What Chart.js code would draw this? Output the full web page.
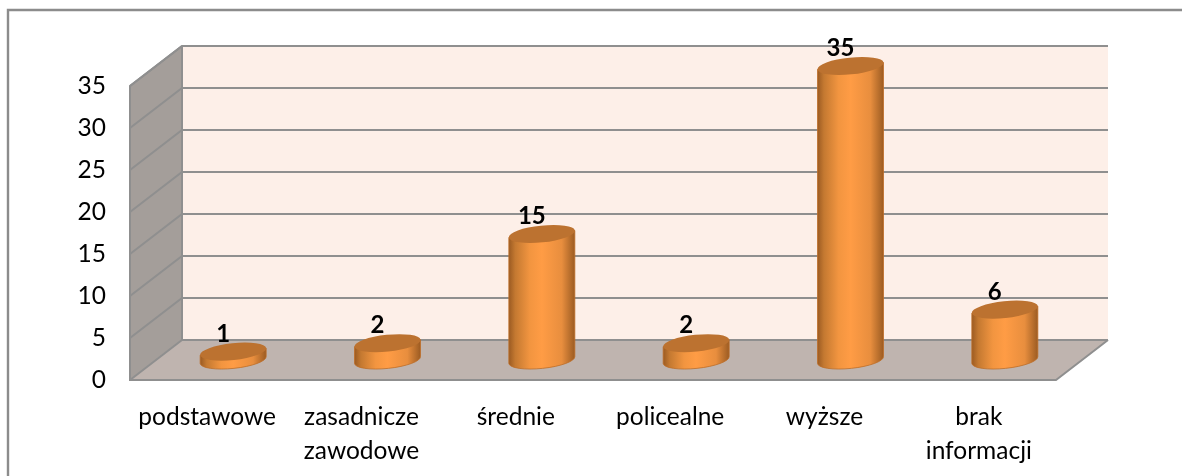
<!DOCTYPE html>
<html lang="pl">
<head>
    <meta charset="UTF-8">
    <title>Wykształcenie</title>
    <script src="https://cdn.jsdelivr.net/npm/chart.js"></script>
    <style>
        html, body { margin: 0; padding: 0; background: #fff; }
        canvas { display: block; }
    </style>
</head>
<body>
    <canvas id="wykres" width="1182" height="476"></canvas>
    <script>
        const categories = ['podstawowe', ['zasadnicze', 'zawodowe'], 'średnie', 'policealne', 'wyższe', ['brak', 'informacji']];
        const values = [1, 2, 15, 2, 35, 6];
        const yTicks = [0, 5, 10, 15, 20, 25, 30, 35];

        // przesuniecie tylnej sciany wzgledem przedniej plaszczyzny
        const depthX = 52;
        const depthY = -40;
        const fontName = 'Lato, "Open Sans", sans-serif';

        // walec zamiast prostokata
        Chart.BarElement.prototype.draw = function (ctx) {
            const props = this.getProps(['x', 'y', 'base', 'width'], true);
            const cx = props.x + depthX / 2;
            const top = props.y + depthY / 2;
            const bottom = props.base + depthY / 2;
            const rx = props.width / 2;
            const ry = 8.4;
            const rot = -6 * Math.PI / 180;
            const dx = rx * Math.cos(rot);
            const dy = rx * Math.sin(rot);

            const grad = ctx.createLinearGradient(cx - rx, 0, cx + rx, 0);
            grad.addColorStop(0, '#9a5a22');
            grad.addColorStop(0.1, '#c47931');
            grad.addColorStop(0.32, '#f29540');
            grad.addColorStop(0.5, '#ff9c45');
            grad.addColorStop(0.8, '#e88e3e');
            grad.addColorStop(1, '#9b5b22');

            ctx.save();
            ctx.beginPath();
            ctx.moveTo(cx - dx, top - dy);
            ctx.lineTo(cx - dx, bottom - dy);
            ctx.ellipse(cx, bottom, rx, ry, rot, Math.PI, 0, true);
            ctx.lineTo(cx + dx, top + dy);
            ctx.closePath();
            ctx.fillStyle = grad;
            ctx.fill();
            ctx.strokeStyle = 'rgba(190, 110, 40, 0.8)';
            ctx.lineWidth = 1;
            ctx.stroke();

            ctx.beginPath();
            ctx.ellipse(cx, top, rx, ry, rot, 0, Math.PI * 2);
            ctx.fillStyle = '#bc7230';
            ctx.fill();
            ctx.restore();
        };

        const walls = {
            id: 'walls',
            beforeDatasetsDraw(chart) {
                const ctx = chart.ctx;
                const a = chart.chartArea;
                const y = chart.scales.y;
                ctx.save();

                // lewa sciana
                ctx.fillStyle = '#a49e9a';
                ctx.beginPath();
                ctx.moveTo(a.left, a.top);
                ctx.lineTo(a.left + depthX, a.top + depthY);
                ctx.lineTo(a.left + depthX, a.bottom + depthY);
                ctx.lineTo(a.left, a.bottom);
                ctx.closePath();
                ctx.fill();

                // tylna sciana
                ctx.fillStyle = '#fdefe8';
                ctx.fillRect(a.left + depthX, a.top + depthY, a.right - a.left, a.bottom - a.top);

                // podloga
                ctx.fillStyle = '#bfb4af';
                ctx.beginPath();
                ctx.moveTo(a.left, a.bottom);
                ctx.lineTo(a.left + depthX, a.bottom + depthY);
                ctx.lineTo(a.right + depthX, a.bottom + depthY);
                ctx.lineTo(a.right, a.bottom);
                ctx.closePath();
                ctx.fill();

                // linie siatki
                ctx.strokeStyle = '#8f8f8f';
                ctx.lineWidth = 2;
                yTicks.forEach(t => {
                    const py = y.getPixelForValue(t);
                    ctx.beginPath();
                    ctx.moveTo(a.left, py);
                    ctx.lineTo(a.left + depthX, py + depthY);
                    ctx.lineTo(a.right + depthX, py + depthY);
                    ctx.stroke();
                });
                ctx.beginPath();
                ctx.moveTo(a.left + depthX, a.top + depthY);
                ctx.lineTo(a.left + depthX, a.bottom + depthY);
                ctx.moveTo(a.left + depthX, a.top + depthY);
                ctx.lineTo(a.left, a.top);
                ctx.lineTo(a.left, a.bottom);
                ctx.lineTo(a.right, a.bottom);
                ctx.lineTo(a.right + depthX, a.bottom + depthY);
                ctx.stroke();
                ctx.restore();
            },
            afterDatasetsDraw(chart) {
                const ctx = chart.ctx;
                ctx.save();
                ctx.fillStyle = '#000';
                ctx.font = 'bold 24px ' + fontName;
                ctx.textAlign = 'center';
                ctx.textBaseline = 'alphabetic';
                chart.getDatasetMeta(0).data.forEach((bar, i) => {
                    ctx.fillText(values[i], bar.x + depthX / 2 - 10, bar.y + depthY / 2 - 10);
                });
                ctx.restore();
            }
        };

        // ramka: widoczna tylko gora i lewa strona
        const frame = {
            id: 'frame',
            beforeDraw(chart) {
                const ctx = chart.ctx;
                ctx.save();
                ctx.strokeStyle = '#8c8c8c';
                ctx.lineWidth = 2.4;
                ctx.beginPath();
                ctx.moveTo(8, 476);
                ctx.lineTo(8, 10);
                ctx.lineTo(1182, 10);
                ctx.stroke();
                ctx.restore();
            }
        };

        new Chart(document.getElementById('wykres'), {
            type: 'bar',
            data: {
                labels: categories,
                datasets: [{
                    data: values,
                    backgroundColor: '#ff9c45',
                    barPercentage: 0.43,
                    categoryPercentage: 1,
                    clip: false
                }]
            },
            options: {
                responsive: false,
                animation: false,
                layout: { padding: { left: 0, top: 86, right: 126, bottom: 0 } },
                plugins: { legend: { display: false }, tooltip: { enabled: false } },
                scales: {
                    x: {
                        grid: { display: false },
                        border: { display: false },
                        afterFit(scale) { scale.height = 96; },
                        ticks: {
                            autoSkip: false,
                            maxRotation: 0,
                            minRotation: 0,
                            padding: 12,
                            color: '#000',
                            font: { family: fontName, size: 24.5, lineHeight: 1.4 }
                        }
                    },
                    y: {
                        min: 0,
                        max: 35,
                        grid: { display: false },
                        border: { display: false },
                        afterFit(scale) { scale.width = 130; },
                        afterBuildTicks(scale) { scale.ticks = yTicks.map(v => ({ value: v })); },
                        ticks: {
                            padding: 16,
                            color: '#000',
                            font: { family: fontName, size: 24.5 }
                        }
                    }
                }
            },
            plugins: [frame, walls]
        });
    </script>
</body>
</html>
